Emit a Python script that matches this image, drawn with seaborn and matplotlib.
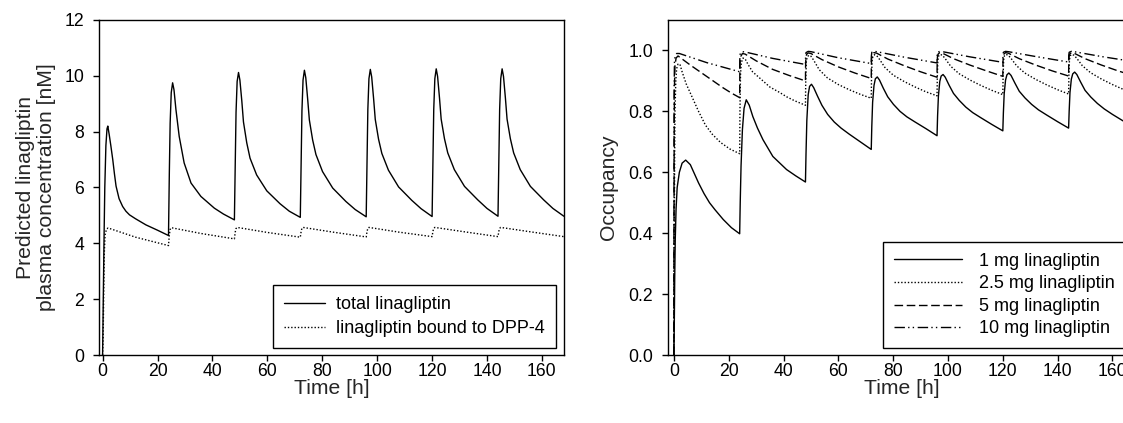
import numpy as np
import pandas as pd
import matplotlib
matplotlib.use("Agg")
import matplotlib.pyplot as plt
import seaborn as sns

# ---------------- data ----------------
dose_times = [0, 24, 48, 72, 96, 120, 144]

# Left panel: total linagliptin [nM]
total_c1_t = [0, 0.5, 0.8, 1.2, 1.6, 1.9, 2.4, 3.0, 3.7, 4.3, 4.9, 6.0, 7.3, 8.5, 9.8, 12, 15.8, 20, 24]
total_c1_v = [0, 4.0, 6.0, 7.5, 8.1, 8.2, 7.9, 7.5, 7.0, 6.5, 6.05, 5.6, 5.32, 5.15, 5.02, 4.88, 4.66, 4.47, 4.28]
total_c2_t = [24.0, 24.3, 24.6, 25.0, 25.5, 26.0, 26.7, 27.9, 29.7, 32.2, 35.8, 40.7, 44, 48]
total_c2_v = [4.28, 6.5, 8.3, 9.4, 9.75, 9.5, 8.8, 7.83, 6.88, 6.16, 5.68, 5.26, 5.05, 4.84]
total_off = [0, 0.3, 0.6, 1.0, 1.5, 2.0, 2.7, 3.3, 4.5, 5.7, 8.1, 11.8, 16.6, 20, 24]
total_c3_v = [4.84, 6.8, 8.7, 9.8, 10.12, 9.85, 9.1, 8.35, 7.6, 7.05, 6.45, 5.88, 5.42, 5.15, 4.93]
total_c4_v = [4.93, 6.85, 8.75, 9.85, 10.2, 9.93, 9.15, 8.42, 7.7, 7.18, 6.57, 5.98, 5.5, 5.21, 4.95]
total_c5_v = [4.95, 6.9, 8.8, 9.9, 10.23, 9.96, 9.18, 8.44, 7.73, 7.22, 6.62, 6.02, 5.54, 5.24, 4.96]
total_c6_v = [4.96, 6.9, 8.8, 9.9, 10.25, 9.98, 9.2, 8.45, 7.75, 7.24, 6.64, 6.04, 5.56, 5.25, 4.97]
total_c7_v = [4.97, 6.9, 8.8, 9.9, 10.25, 9.98, 9.2, 8.45, 7.75, 7.24, 6.64, 6.04, 5.56, 5.25, 4.97]

# Left panel: linagliptin bound to DPP-4 [nM]
bound_c1_t = [0, 0.2, 0.4, 0.6, 0.9, 1.4, 2.0, 12, 24]
bound_c1_v = [0, 0.6, 2.2, 3.6, 4.3, 4.5, 4.55, 4.22, 3.92]
bound_off = [0, 0.3, 0.6, 1.0, 12, 24]
bound_c2_v = [3.92, 4.3, 4.5, 4.56, 4.35, 4.16]
bound_c3_v = [4.16, 4.4, 4.53, 4.57, 4.39, 4.22]
bound_c4_v = [4.22, 4.42, 4.54, 4.57, 4.4, 4.23]
bound_c5_v = [4.23, 4.42, 4.54, 4.57, 4.4, 4.24]
bound_c6_v = [4.24, 4.43, 4.54, 4.57, 4.41, 4.24]
bound_c7_v = [4.24, 4.43, 4.54, 4.57, 4.41, 4.24]

# Right panel: DPP-4 occupancy
occ1_c1_t = [0, 0.15, 0.3, 0.5, 0.8, 1.2, 2.0, 3.0, 4.3, 6.0, 7.5, 9.0, 11, 13, 15, 18, 21, 24]
occ1_c1_v = [0, 0.10, 0.25, 0.38, 0.48, 0.55, 0.60, 0.63, 0.64, 0.625, 0.595, 0.565, 0.53, 0.50, 0.477, 0.445, 0.418, 0.398]
occ1_c2_t = [24.0, 24.2, 24.5, 25.0, 25.6, 26.4, 27.5, 28.8, 30.5, 32.5, 36.1, 41.1, 44.5, 48]
occ1_c2_v = [0.398, 0.5, 0.62, 0.74, 0.81, 0.838, 0.82, 0.783, 0.745, 0.707, 0.652, 0.609, 0.588, 0.568]
occ1_off = [0, 0.2, 0.5, 1.0, 1.5, 2.2, 3.0, 4.4, 6.0, 8.1, 10.5, 13, 16, 20, 24]
occ1_c3_v = [0.568, 0.66, 0.77, 0.855, 0.882, 0.889, 0.878, 0.85, 0.82, 0.79, 0.765, 0.745, 0.725, 0.70, 0.675]
occ1_c4_v = [0.675, 0.75, 0.83, 0.885, 0.907, 0.913, 0.903, 0.876, 0.848, 0.823, 0.80, 0.782, 0.765, 0.743, 0.72]
occ1_c5_v = [0.72, 0.785, 0.85, 0.898, 0.916, 0.921, 0.912, 0.886, 0.859, 0.836, 0.814, 0.796, 0.779, 0.757, 0.736]
occ1_c6_v = [0.736, 0.795, 0.858, 0.903, 0.92, 0.926, 0.918, 0.893, 0.866, 0.844, 0.823, 0.805, 0.788, 0.766, 0.745]
occ1_c7_v = [0.745, 0.80, 0.862, 0.906, 0.923, 0.929, 0.921, 0.896, 0.869, 0.847, 0.826, 0.808, 0.79, 0.768, 0.746]

occ25_c1_t = [0, 0.1, 0.25, 0.4, 0.7, 1.0, 1.5, 2.2, 3.0, 4.5, 6.5, 9.0, 11.5, 14, 17, 20.5, 24]
occ25_c1_v = [0, 0.3, 0.6, 0.8, 0.9, 0.94, 0.955, 0.955, 0.93, 0.89, 0.85, 0.80, 0.755, 0.725, 0.698, 0.676, 0.661]
occ25_c2_t = [24.0, 24.1, 24.3, 24.6, 25.2, 26, 27, 28.7, 32.5, 35, 38.6, 41.1, 44, 48]
occ25_c2_v = [0.661, 0.8, 0.92, 0.96, 0.975, 0.972, 0.955, 0.93, 0.90, 0.88, 0.862, 0.848, 0.835, 0.82]
occ25_off = [0, 0.1, 0.3, 0.6, 1.2, 2.0, 3.0, 5.0, 8.0, 12, 16, 20, 24]
occ25_c3_v = [0.82, 0.9, 0.962, 0.978, 0.984, 0.981, 0.968, 0.937, 0.91, 0.888, 0.871, 0.856, 0.843]
occ25_c4_v = [0.843, 0.91, 0.966, 0.981, 0.986, 0.983, 0.971, 0.944, 0.919, 0.898, 0.88, 0.864, 0.851]
occ25_c5_v = [0.851, 0.915, 0.968, 0.982, 0.987, 0.984, 0.973, 0.948, 0.924, 0.903, 0.885, 0.869, 0.855]
occ25_c6_v = [0.855, 0.918, 0.969, 0.983, 0.987, 0.984, 0.974, 0.95, 0.926, 0.905, 0.887, 0.871, 0.857]
occ25_c7_v = [0.857, 0.918, 0.969, 0.983, 0.987, 0.984, 0.974, 0.95, 0.927, 0.906, 0.888, 0.872, 0.858]

occ5_c1_t = [0, 0.05, 0.1, 0.2, 0.4, 0.8, 1.5, 3, 6, 10, 14, 18, 21, 24]
occ5_c1_v = [0, 0.4, 0.7, 0.88, 0.95, 0.975, 0.982, 0.972, 0.952, 0.927, 0.902, 0.877, 0.86, 0.845]
occ5_off = [0, 0.05, 0.15, 0.4, 1.0, 2.0, 6, 12, 18, 24]
occ5_c2_v = [0.845, 0.92, 0.96, 0.98, 0.99, 0.988, 0.966, 0.938, 0.918, 0.90]
occ5_c3_v = [0.90, 0.95, 0.975, 0.987, 0.992, 0.99, 0.97, 0.946, 0.926, 0.908]
occ5_c4_v = [0.908, 0.955, 0.978, 0.988, 0.993, 0.991, 0.972, 0.95, 0.93, 0.912]
occ5_c5_v = [0.912, 0.957, 0.979, 0.988, 0.993, 0.991, 0.973, 0.952, 0.933, 0.915]
occ5_c6_v = [0.915, 0.957, 0.979, 0.988, 0.993, 0.991, 0.973, 0.952, 0.933, 0.916]
occ5_c7_v = [0.916, 0.957, 0.979, 0.988, 0.993, 0.991, 0.973, 0.952, 0.933, 0.916]

occ10_c1_t = [0, 0.03, 0.08, 0.2, 0.5, 1.0, 2, 6, 12, 18, 24]
occ10_c1_v = [0, 0.5, 0.85, 0.96, 0.985, 0.99, 0.99, 0.978, 0.96, 0.945, 0.93]
occ10_off = [0, 0.05, 0.2, 1.0, 2.0, 12, 24]
occ10_c2_v = [0.93, 0.97, 0.99, 0.996, 0.995, 0.974, 0.954]
occ10_c3_v = [0.954, 0.98, 0.993, 0.997, 0.996, 0.976, 0.957]
occ10_c4_v = [0.957, 0.982, 0.994, 0.997, 0.996, 0.978, 0.959]
occ10_c5_v = [0.959, 0.983, 0.994, 0.997, 0.996, 0.979, 0.961]
occ10_c6_v = [0.961, 0.984, 0.994, 0.997, 0.996, 0.98, 0.962]
occ10_c7_v = [0.962, 0.984, 0.994, 0.997, 0.996, 0.98, 0.963]

left_labels = ["total linagliptin", "linagliptin bound to DPP-4"]
right_labels = ["1 mg linagliptin", "2.5 mg linagliptin", "5 mg linagliptin", "10 mg linagliptin"]
x_ticks = [0, 20, 40, 60, 80, 100, 120, 140, 160]
left_yticks = [0, 2, 4, 6, 8, 10, 12]
right_yticks = [0.0, 0.2, 0.4, 0.6, 0.8, 1.0]


# ---------------- assemble series ----------------
def build(segments):
    """segments: list of (times, values) for successive dosing intervals"""
    t_all, v_all = [], []
    for t, v in segments:
        for ti, vi in zip(t, v):
            if t_all and abs(ti - t_all[-1]) < 1e-9:
                continue
            t_all.append(ti)
            v_all.append(vi)
    return pd.DataFrame({"time": t_all, "value": v_all})


def shifted(off, start):
    return [start + o for o in off]


total = build([(total_c1_t, total_c1_v), (total_c2_t, total_c2_v)] +
              [(shifted(total_off, d), v) for d, v in zip(dose_times[2:],
               [total_c3_v, total_c4_v, total_c5_v, total_c6_v, total_c7_v])])
bound = build([(bound_c1_t, bound_c1_v)] +
              [(shifted(bound_off, d), v) for d, v in zip(dose_times[1:],
               [bound_c2_v, bound_c3_v, bound_c4_v, bound_c5_v, bound_c6_v, bound_c7_v])])
occ1 = build([(occ1_c1_t, occ1_c1_v), (occ1_c2_t, occ1_c2_v)] +
             [(shifted(occ1_off, d), v) for d, v in zip(dose_times[2:],
              [occ1_c3_v, occ1_c4_v, occ1_c5_v, occ1_c6_v, occ1_c7_v])])
occ25 = build([(occ25_c1_t, occ25_c1_v), (occ25_c2_t, occ25_c2_v)] +
              [(shifted(occ25_off, d), v) for d, v in zip(dose_times[2:],
               [occ25_c3_v, occ25_c4_v, occ25_c5_v, occ25_c6_v, occ25_c7_v])])
occ5 = build([(occ5_c1_t, occ5_c1_v)] +
             [(shifted(occ5_off, d), v) for d, v in zip(dose_times[1:],
              [occ5_c2_v, occ5_c3_v, occ5_c4_v, occ5_c5_v, occ5_c6_v, occ5_c7_v])])
occ10 = build([(occ10_c1_t, occ10_c1_v)] +
              [(shifted(occ10_off, d), v) for d, v in zip(dose_times[1:],
               [occ10_c2_v, occ10_c3_v, occ10_c4_v, occ10_c5_v, occ10_c6_v, occ10_c7_v])])

# ---------------- styling ----------------
sns.set_theme(style="ticks")
plt.rcParams["font.family"] = ["Liberation Sans", "DejaVu Sans"]
plt.rcParams["axes.linewidth"] = 1.0
plt.rcParams["axes.edgecolor"] = "black"
plt.rcParams["xtick.color"] = "black"
plt.rcParams["ytick.color"] = "black"
plt.rcParams["text.color"] = "black"

W, H = 1123, 423
fig = plt.figure(figsize=(W / 100, H / 100), dpi=100)
top_px, bot_px = 20, 355
axL = fig.add_axes([99.3 / W, (H - bot_px) / H, 464.6 / W, (bot_px - top_px) / H])
axR = fig.add_axes([668.4 / W, (H - bot_px) / H, 466.0 / W, (bot_px - top_px) / H])

dot = (0, (1.0, 1.4))
dash = (0, (6.2, 2.6))
dashdotdot = (0, (7.5, 2.3, 1.0, 2.3, 1.0, 2.6))
lw = 1.0

sns.lineplot(data=total, x="time", y="value", ax=axL, color="black", lw=lw,
             estimator=None, sort=False, errorbar=None, label=left_labels[0])
sns.lineplot(data=bound, x="time", y="value", ax=axL, color="black", lw=lw, linestyle=dot,
             estimator=None, sort=False, errorbar=None, label=left_labels[1])

for df, ls, lab in [(occ1, "-", right_labels[0]), (occ25, dot, right_labels[1]),
                    (occ5, dash, right_labels[2]), (occ10, dashdotdot, right_labels[3])]:
    sns.lineplot(data=df, x="time", y="value", ax=axR, color="black", lw=lw, linestyle=ls,
                 estimator=None, sort=False, errorbar=None, label=lab)

tick_fs = 12.7
lab_fs = 15.2
leg_fs = 13
for ax in (axL, axR):
    ax.set_xticks(x_ticks)
    ax.tick_params(axis="both", which="both", direction="out", length=4.5, width=1.0,
                   labelsize=tick_fs, top=False, right=False)
    ax.tick_params(axis="x", pad=1.5)
    ax.tick_params(axis="y", pad=6.5)
    for s in ax.spines.values():
        s.set_visible(True)
        s.set_color("black")
        s.set_linewidth(1.0)
    ax.set_xlabel("Time [h]", fontsize=lab_fs)
    ax.xaxis.set_label_coords(0.5, -0.072)

axL.set_xlim(-1.2, 168)
axR.set_xlim(-2.0, 168)

axL.set_ylim(0, 12)
axL.set_yticks(left_yticks)
axL.set_ylabel("Predicted linagliptin\nplasma concentration [nM]", fontsize=lab_fs,
               linespacing=1.1)
axL.yaxis.set_label_coords(-0.094, 0.5)

axR.set_ylim(0, 1.1)
axR.set_yticks(right_yticks)
axR.set_yticklabels([f"{v:.1f}" for v in right_yticks])
axR.set_ylabel("Occupancy", fontsize=lab_fs)
axR.yaxis.set_label_coords(-0.108, 0.5)

legL = axL.legend(loc="lower right", bbox_to_anchor=(0.982, 0.02), fontsize=leg_fs,
                  frameon=True, fancybox=False, edgecolor="black", framealpha=1,
                  handlelength=2.3, handletextpad=0.6, borderpad=0.6, labelspacing=0.4,
                  borderaxespad=0)
legL.get_frame().set_linewidth(1.0)
legR = axR.legend(loc="lower right", bbox_to_anchor=(0.982, 0.02), fontsize=leg_fs,
                  frameon=True, fancybox=False, edgecolor="black", framealpha=1,
                  handlelength=3.8, handletextpad=0.95, borderpad=0.6, labelspacing=0.31,
                  borderaxespad=0)
legR.get_frame().set_linewidth(1.0)

fig.savefig("out.png", dpi=100)
